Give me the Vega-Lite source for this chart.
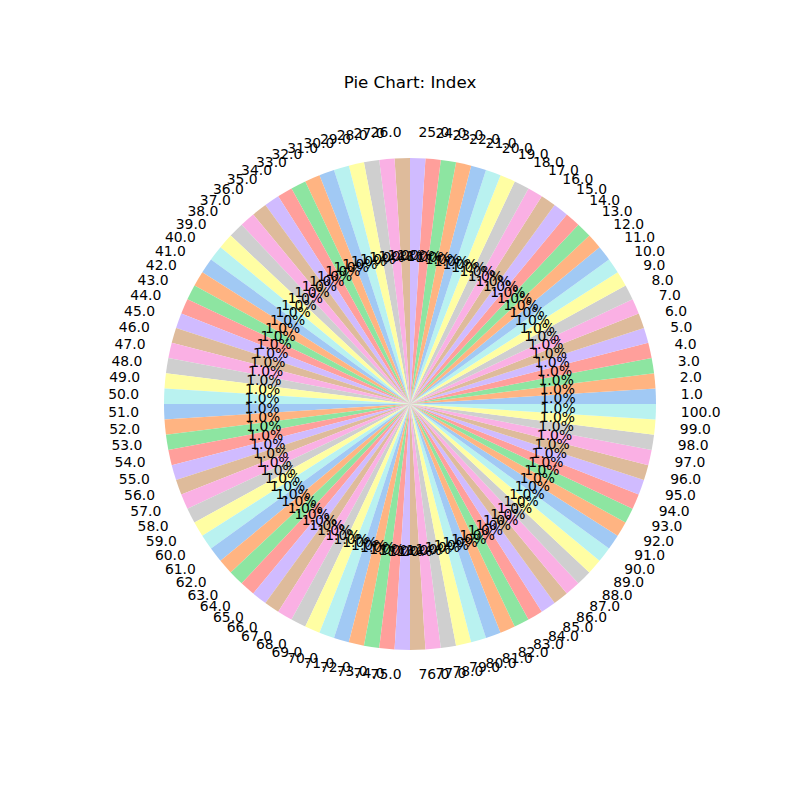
{
  "$schema": "https://vega.github.io/schema/vega-lite/v6.json",
  "autosize": "none",
  "width": 780,
  "height": 792,
  "padding": {"left": 20, "top": 8, "right": 0, "bottom": 0},
  "background": "white",
  "view": {"stroke": null},
  "title": {"text": "Pie Chart: Index", "offset": -84, "fontSize": 16.7, "font": "DejaVu Sans", "fontWeight": "normal", "color": "black", "anchor": "middle"},
  "data": {"values": [
{"index":1,"value":1,"label":"1.0","pct":"1.0%"},{"index":2,"value":1,"label":"2.0","pct":"1.0%"},{"index":3,"value":1,"label":"3.0","pct":"1.0%"},{"index":4,"value":1,"label":"4.0","pct":"1.0%"},{"index":5,"value":1,"label":"5.0","pct":"1.0%"},{"index":6,"value":1,"label":"6.0","pct":"1.0%"},{"index":7,"value":1,"label":"7.0","pct":"1.0%"},{"index":8,"value":1,"label":"8.0","pct":"1.0%"},{"index":9,"value":1,"label":"9.0","pct":"1.0%"},{"index":10,"value":1,"label":"10.0","pct":"1.0%"},
{"index":11,"value":1,"label":"11.0","pct":"1.0%"},{"index":12,"value":1,"label":"12.0","pct":"1.0%"},{"index":13,"value":1,"label":"13.0","pct":"1.0%"},{"index":14,"value":1,"label":"14.0","pct":"1.0%"},{"index":15,"value":1,"label":"15.0","pct":"1.0%"},{"index":16,"value":1,"label":"16.0","pct":"1.0%"},{"index":17,"value":1,"label":"17.0","pct":"1.0%"},{"index":18,"value":1,"label":"18.0","pct":"1.0%"},{"index":19,"value":1,"label":"19.0","pct":"1.0%"},{"index":20,"value":1,"label":"20.0","pct":"1.0%"},
{"index":21,"value":1,"label":"21.0","pct":"1.0%"},{"index":22,"value":1,"label":"22.0","pct":"1.0%"},{"index":23,"value":1,"label":"23.0","pct":"1.0%"},{"index":24,"value":1,"label":"24.0","pct":"1.0%"},{"index":25,"value":1,"label":"25.0","pct":"1.0%"},{"index":26,"value":1,"label":"26.0","pct":"1.0%"},{"index":27,"value":1,"label":"27.0","pct":"1.0%"},{"index":28,"value":1,"label":"28.0","pct":"1.0%"},{"index":29,"value":1,"label":"29.0","pct":"1.0%"},{"index":30,"value":1,"label":"30.0","pct":"1.0%"},
{"index":31,"value":1,"label":"31.0","pct":"1.0%"},{"index":32,"value":1,"label":"32.0","pct":"1.0%"},{"index":33,"value":1,"label":"33.0","pct":"1.0%"},{"index":34,"value":1,"label":"34.0","pct":"1.0%"},{"index":35,"value":1,"label":"35.0","pct":"1.0%"},{"index":36,"value":1,"label":"36.0","pct":"1.0%"},{"index":37,"value":1,"label":"37.0","pct":"1.0%"},{"index":38,"value":1,"label":"38.0","pct":"1.0%"},{"index":39,"value":1,"label":"39.0","pct":"1.0%"},{"index":40,"value":1,"label":"40.0","pct":"1.0%"},
{"index":41,"value":1,"label":"41.0","pct":"1.0%"},{"index":42,"value":1,"label":"42.0","pct":"1.0%"},{"index":43,"value":1,"label":"43.0","pct":"1.0%"},{"index":44,"value":1,"label":"44.0","pct":"1.0%"},{"index":45,"value":1,"label":"45.0","pct":"1.0%"},{"index":46,"value":1,"label":"46.0","pct":"1.0%"},{"index":47,"value":1,"label":"47.0","pct":"1.0%"},{"index":48,"value":1,"label":"48.0","pct":"1.0%"},{"index":49,"value":1,"label":"49.0","pct":"1.0%"},{"index":50,"value":1,"label":"50.0","pct":"1.0%"},
{"index":51,"value":1,"label":"51.0","pct":"1.0%"},{"index":52,"value":1,"label":"52.0","pct":"1.0%"},{"index":53,"value":1,"label":"53.0","pct":"1.0%"},{"index":54,"value":1,"label":"54.0","pct":"1.0%"},{"index":55,"value":1,"label":"55.0","pct":"1.0%"},{"index":56,"value":1,"label":"56.0","pct":"1.0%"},{"index":57,"value":1,"label":"57.0","pct":"1.0%"},{"index":58,"value":1,"label":"58.0","pct":"1.0%"},{"index":59,"value":1,"label":"59.0","pct":"1.0%"},{"index":60,"value":1,"label":"60.0","pct":"1.0%"},
{"index":61,"value":1,"label":"61.0","pct":"1.0%"},{"index":62,"value":1,"label":"62.0","pct":"1.0%"},{"index":63,"value":1,"label":"63.0","pct":"1.0%"},{"index":64,"value":1,"label":"64.0","pct":"1.0%"},{"index":65,"value":1,"label":"65.0","pct":"1.0%"},{"index":66,"value":1,"label":"66.0","pct":"1.0%"},{"index":67,"value":1,"label":"67.0","pct":"1.0%"},{"index":68,"value":1,"label":"68.0","pct":"1.0%"},{"index":69,"value":1,"label":"69.0","pct":"1.0%"},{"index":70,"value":1,"label":"70.0","pct":"1.0%"},
{"index":71,"value":1,"label":"71.0","pct":"1.0%"},{"index":72,"value":1,"label":"72.0","pct":"1.0%"},{"index":73,"value":1,"label":"73.0","pct":"1.0%"},{"index":74,"value":1,"label":"74.0","pct":"1.0%"},{"index":75,"value":1,"label":"75.0","pct":"1.0%"},{"index":76,"value":1,"label":"76.0","pct":"1.0%"},{"index":77,"value":1,"label":"77.0","pct":"1.0%"},{"index":78,"value":1,"label":"78.0","pct":"1.0%"},{"index":79,"value":1,"label":"79.0","pct":"1.0%"},{"index":80,"value":1,"label":"80.0","pct":"1.0%"},
{"index":81,"value":1,"label":"81.0","pct":"1.0%"},{"index":82,"value":1,"label":"82.0","pct":"1.0%"},{"index":83,"value":1,"label":"83.0","pct":"1.0%"},{"index":84,"value":1,"label":"84.0","pct":"1.0%"},{"index":85,"value":1,"label":"85.0","pct":"1.0%"},{"index":86,"value":1,"label":"86.0","pct":"1.0%"},{"index":87,"value":1,"label":"87.0","pct":"1.0%"},{"index":88,"value":1,"label":"88.0","pct":"1.0%"},{"index":89,"value":1,"label":"89.0","pct":"1.0%"},{"index":90,"value":1,"label":"90.0","pct":"1.0%"},
{"index":91,"value":1,"label":"91.0","pct":"1.0%"},{"index":92,"value":1,"label":"92.0","pct":"1.0%"},{"index":93,"value":1,"label":"93.0","pct":"1.0%"},{"index":94,"value":1,"label":"94.0","pct":"1.0%"},{"index":95,"value":1,"label":"95.0","pct":"1.0%"},{"index":96,"value":1,"label":"96.0","pct":"1.0%"},{"index":97,"value":1,"label":"97.0","pct":"1.0%"},{"index":98,"value":1,"label":"98.0","pct":"1.0%"},{"index":99,"value":1,"label":"99.0","pct":"1.0%"},{"index":100,"value":1,"label":"100.0","pct":"1.0%"}
  ]},
  "layer": [
    {
      "mark": {"type": "arc", "radius": 246, "strokeWidth": 0},
      "encoding": {
        "theta": {"field": "value", "type": "quantitative", "stack": true, "scale": {"range": [1.5707963268, 7.8539816340]}},
        "color": {"field": "index", "type": "nominal", "legend": null, "scale": {"range": ["#a1c9f4", "#ffb482", "#8de5a1", "#ff9f9b", "#d0bbff", "#debb9b", "#fab0e4", "#cfcfcf", "#fffea3", "#b9f2f0"]}},
        "order": {"field": "index", "type": "quantitative", "sort": "descending"}
      }
    },
    {
      "mark": {"type": "text", "radius": 148, "font": "DejaVu Sans", "fontSize": 13.9, "color": "black", "align": "center", "baseline": "middle"},
      "encoding": {
        "theta": {"field": "value", "type": "quantitative", "stack": true},
        "detail": {"field": "index", "type": "nominal"},
        "order": {"field": "index", "type": "quantitative", "sort": "descending"},
        "text": {"field": "pct", "type": "nominal"}
      }
    },
    {
      "mark": {"type": "text", "radius": 271, "font": "DejaVu Sans", "fontSize": 13.9, "color": "black", "baseline": "middle", "align": {"expr": "datum.index <= 25 || datum.index > 75 ? 'left' : 'right'"}},
      "encoding": {
        "theta": {"field": "value", "type": "quantitative", "stack": true},
        "detail": {"field": "index", "type": "nominal"},
        "order": {"field": "index", "type": "quantitative", "sort": "descending"},
        "text": {"field": "label", "type": "nominal"}
      }
    }
  ]
}
